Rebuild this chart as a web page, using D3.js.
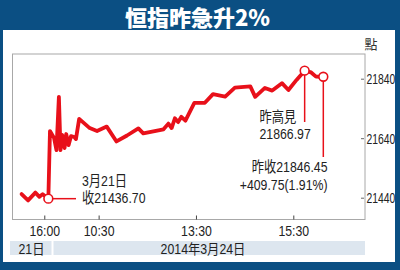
<!DOCTYPE html>
<html><head><meta charset="utf-8">
<script src="https://cdn.jsdelivr.net/npm/d3@7"></script>
<style>
html,body{margin:0;padding:0;background:#0b4f83;}
svg{display:block;}
</style></head>
<body>
<svg id="c" width="400" height="270"></svg>
<script>
// ---- data ----
const titleText = "恒指昨急升2%";
const unitLabel = "點";
const day21Times  = ["15:32","15:40","15:49","15:54","15:58","16:05"];
const day21Values = [21452, 21431, 21457, 21443, 21452, 21436.70];
const day24Times  = ["09:30","09:35","09:38","09:41","09:43","09:45","09:48","09:50","09:53","09:56",
                     "10:00","10:02","10:06","10:19","10:28","10:40","10:52","11:05","11:19","11:25",
                     "11:50","11:56","13:00","13:04","13:08","13:12","13:17","13:28","13:41","13:51",
                     "14:06","14:18","14:37","14:43","14:55","15:04","15:16","15:24","15:34","15:44",
                     "15:52","15:58","16:07"];
const day24Values = [21664,21641,21600,21779,21600,21651,21607,21654,21617,21647,
                     21644,21637,21705,21674,21664,21679,21629,21649,21673,21656,
                     21670,21689,21674,21707,21694,21712,21699,21759,21759,21788,
                     21780,21810,21814,21779,21809,21800,21825,21802,21836,21866.97,
                     21861,21847,21846.45];
const yTicks = [21440, 21640, 21840];
const xTickDays   = [21, 24, 24, 24];
const xTickLabels = ["16:00","10:30","13:30","15:30"];
const dayBandLabels = ["21日", "2014年3月24日"];
const prevCloseLabel = ["3月21日", "收21436.70"];
const highLabel = ["昨高見", "21866.97"];
const closeLabel = ["昨收21846.45", "+409.75(1.91%)"];

// trading-minute axis: 09:30 on 24th = 0, lunch removed; 21st placed just before
function tm(day, s){
  const [h,m] = s.split(":").map(Number), mins = h*60+m;
  if (day === 21) return mins - 960 - 7;
  return mins < 720 ? mins - 570 : mins - 780 + 150;
}
const data = day21Times.map((t,i)=>({x:tm(21,t), v:day21Values[i]}))
  .concat(day24Times.map((t,i)=>({x:tm(24,t), v:day24Values[i]})));

const W=400,H=270;
const blue="#0b4f83", red="#e8101a", ink="#222";
const numFont = "'Liberation Sans','Arial','Noto Sans CJK TC',sans-serif";
const cjkFont = "'Noto Sans CJK TC','Noto Sans CJK SC',sans-serif";
const svg = d3.select("#c");
const L=12.5, R=365, T=54, B=219.5;

const x = d3.scaleLinear().domain([-46.2, 388.4]).range([L, R]);
const y = d3.scaleLinear().domain([21366.7, 21923]).range([B, T]);

// condensed text helper
function ntext(parent, s, xx, yy, size, anchor, sx){
  return parent.append("text")
    .attr("transform",`translate(${xx},${yy}) scale(${sx||0.82},1)`)
    .attr("text-anchor",anchor||"start")
    .attr("font-family",numFont).attr("font-size",size).attr("fill",ink).text(s);
}

// background
svg.append("rect").attr("width",W).attr("height",H).attr("fill",blue);
svg.append("rect").attr("x",3).attr("y",30).attr("width",392).attr("height",232).attr("fill","#fff");

// plot frame
svg.append("rect").attr("x",L).attr("y",T).attr("width",R-L).attr("height",B-T)
  .attr("fill","none").attr("stroke","#a8a8a8").attr("stroke-width",1);

// right y axis
const yAxis = svg.append("g").attr("transform",`translate(${R},0)`)
  .call(d3.axisRight(y).tickValues(yTicks).tickSize(0).tickFormat(()=>""));
yAxis.select(".domain").remove();
yAxis.selectAll(".tick text").remove();
yAxis.selectAll(".tick").each(function(d){
  const g = d3.select(this);
  g.append("line").attr("x1",-4).attr("x2",-1).attr("stroke","#666");
  ntext(g, d3.format("d")(d), 1.5, 5, 14, "start", 0.74);
});

// bottom x axis (inward ticks)
const xtv = xTickLabels.map((l,i)=>tm(xTickDays[i], l));
const xAxis = svg.append("g").attr("transform",`translate(0,${B})`)
  .call(d3.axisBottom(x).tickValues(xtv).tickSize(0).tickFormat(()=>""));
xAxis.select(".domain").remove();
xAxis.selectAll(".tick text").remove();
xAxis.selectAll(".tick").each(function(d,i){
  const g = d3.select(this);
  g.append("line").attr("y1",-4).attr("y2",0).attr("stroke","#444");
  ntext(g, xTickLabels[i], 0, 16, 15, "middle", 0.82);
});

// unit label
svg.append("text").attr("x",371).attr("y",49).attr("text-anchor","middle")
  .attr("font-family",cjkFont).attr("font-size",13).attr("fill","#333").text(unitLabel);

// date bands
const bandX = [[10, 51.5],[53.5, 365]];
const bandTextX = [31.5, 203];
dayBandLabels.forEach((lab,i)=>{
  svg.append("rect").attr("x",bandX[i][0]).attr("y",241).attr("width",bandX[i][1]-bandX[i][0]).attr("height",14)
    .attr("fill","#dde6ef");
  ntext(svg, lab, bandTextX[i], 253.5, 14, "middle", 0.88);
});

// line
const line = d3.line().x(d=>x(d.x)).y(d=>y(d.v));
svg.append("path").datum(data).attr("d",line).attr("fill","none")
  .attr("stroke",red).attr("stroke-width",3.8).attr("stroke-linejoin","round").attr("stroke-linecap","round");

// annotations
const prevClose = data[day21Times.length-1];
const high = data.reduce((a,b)=>b.v>a.v?b:a);
const lastPt = data[data.length-1];

svg.append("line").attr("x1",x(prevClose.x)).attr("x2",76).attr("y1",y(prevClose.v)).attr("y2",y(prevClose.v))
  .attr("stroke",red).attr("stroke-width",1.5);
svg.append("line").attr("x1",x(high.x)).attr("x2",x(high.x)).attr("y1",y(high.v)).attr("y2",122)
  .attr("stroke",red).attr("stroke-width",1.5);
svg.append("line").attr("x1",x(lastPt.x)).attr("x2",x(lastPt.x)).attr("y1",y(lastPt.v)).attr("y2",157)
  .attr("stroke",red).attr("stroke-width",1.5);

[prevClose, high, lastPt].forEach(p=>{
  svg.append("circle").attr("cx",x(p.x)).attr("cy",y(p.v)).attr("r",4.4)
    .attr("fill","#fff").attr("stroke",red).attr("stroke-width",1.6);
});

ntext(svg, prevCloseLabel[0], 82, 186, 15);
ntext(svg, prevCloseLabel[1], 82, 203, 15);
ntext(svg, highLabel[0], 259.5, 121.5, 15);
ntext(svg, highLabel[1], 259.5, 139, 15);
ntext(svg, closeLabel[0], 327.5, 171.5, 15, "end");
ntext(svg, closeLabel[1], 327.5, 189.5, 15, "end");

// frame on top
svg.append("rect").attr("x",395).attr("y",0).attr("width",5).attr("height",H).attr("fill",blue);
svg.append("rect").attr("x",0).attr("y",262).attr("width",W).attr("height",8).attr("fill",blue);

// title
svg.append("text").attr("x",197.5).attr("y",26).attr("text-anchor","middle")
  .attr("font-family",cjkFont).attr("font-weight",900).attr("font-size",22).attr("fill","#fff")
  .text(titleText);
</script>
</body></html>
